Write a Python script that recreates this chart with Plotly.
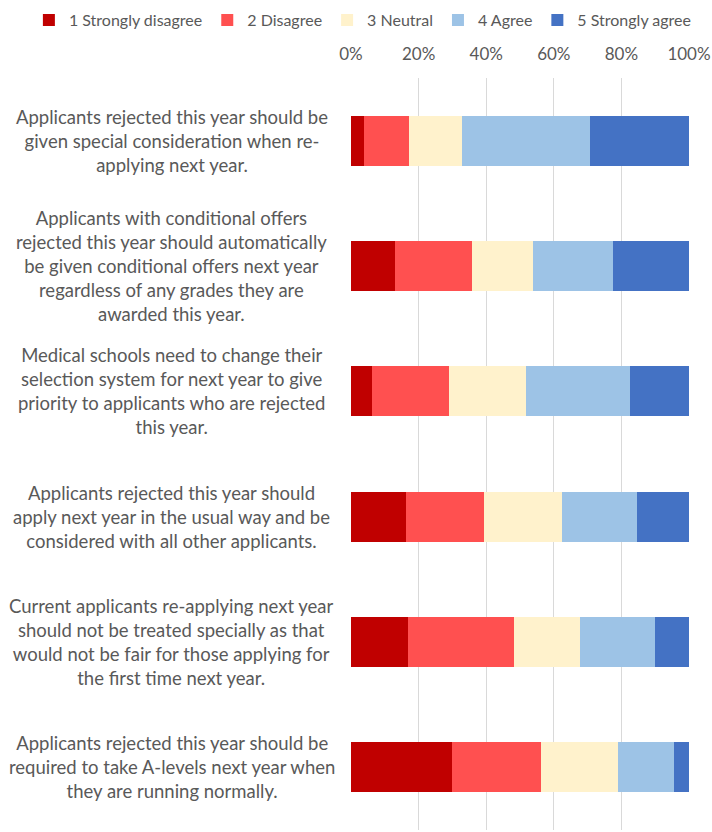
import plotly.graph_objects as go

statements = [
    "Applicants rejected this year should be<br>given special consideration when re-<br>applying next year.",
    "Applicants with conditional offers<br>rejected this year should automatically<br>be given conditional offers next year<br>regardless of any grades they are<br>awarded this year.",
    "Medical schools need to change their<br>selection system for next year to give<br>priority to applicants who are rejected<br>this year.",
    "Applicants rejected this year should<br>apply next year in the usual way and be<br>considered with all other applicants.",
    "Current applicants re-applying next year<br>should not be treated specially as that<br>would not be fair for those applying for<br>the first time next year.",
    "Applicants rejected this year should be<br>required to take A-levels next year when<br>they are running normally.",
]

responses = ["1 Strongly disagree", "2 Disagree", "3 Neutral", "4 Agree", "5 Strongly agree"]

# share of respondents (%) per statement
strongly_disagree = [3.8, 13.0, 6.2, 16.2, 16.8, 29.9]
disagree = [13.3, 22.8, 22.8, 23.1, 31.4, 26.3]
neutral = [15.7, 18.0, 22.7, 23.0, 19.5, 22.7]
agree = [37.8, 23.6, 30.8, 22.4, 22.2, 16.6]
strongly_agree = [29.4, 22.6, 17.5, 15.3, 10.1, 4.5]

colors = ["#C00000", "#FF5050", "#FFF2CC", "#9DC3E6", "#4472C4"]
font = "Lato"
grey = "#595959"

fig = go.Figure()
series = [strongly_disagree, disagree, neutral, agree, strongly_agree]
for name, vals, col in zip(responses, series, colors):
    fig.add_trace(
        go.Bar(
            y=statements,
            x=[v / 100 for v in vals],
            name=name,
            orientation="h",
            marker=dict(color=col, line=dict(width=0)),
        )
    )

# statement labels, centred like the original
for s in statements:
    fig.add_annotation(
        x=-0.531, xref="paper", y=s, yref="y",
        text=s, showarrow=False, align="center",
        xanchor="center", yanchor="middle",
        font=dict(family=font, size=18.5, color=grey),
    )

fig.update_layout(
    width=712, height=832,
    barmode="stack",
    bargap=0.6,
    margin=dict(l=351, r=23, t=78, b=2, autoexpand=False),
    plot_bgcolor="white",
    paper_bgcolor="white",
    font=dict(family=font, size=17, color=grey),
    legend=dict(
        orientation="h",
        x=-0.953, y=1.077, xanchor="left", yanchor="middle",
        itemwidth=30, traceorder="normal",
        font=dict(family=font, size=16, color=grey),
    ),
)
fig.update_xaxes(
    side="top", range=[0, 1], tickformat=".0%", dtick=0.2,
    showgrid=True, gridcolor="#D9D9D9", gridwidth=1,
    zeroline=False, showline=False, ticklabelstandoff=14,
    tickfont=dict(family=font, size=17, color=grey),
)
fig.update_yaxes(autorange="reversed", showticklabels=False, showgrid=False)

# drop the default page margin so the figure fills the window
fig.write_html(
    "out.html",
    config={"displayModeBar": False},
    post_script="document.body.style.margin='0';",
)
